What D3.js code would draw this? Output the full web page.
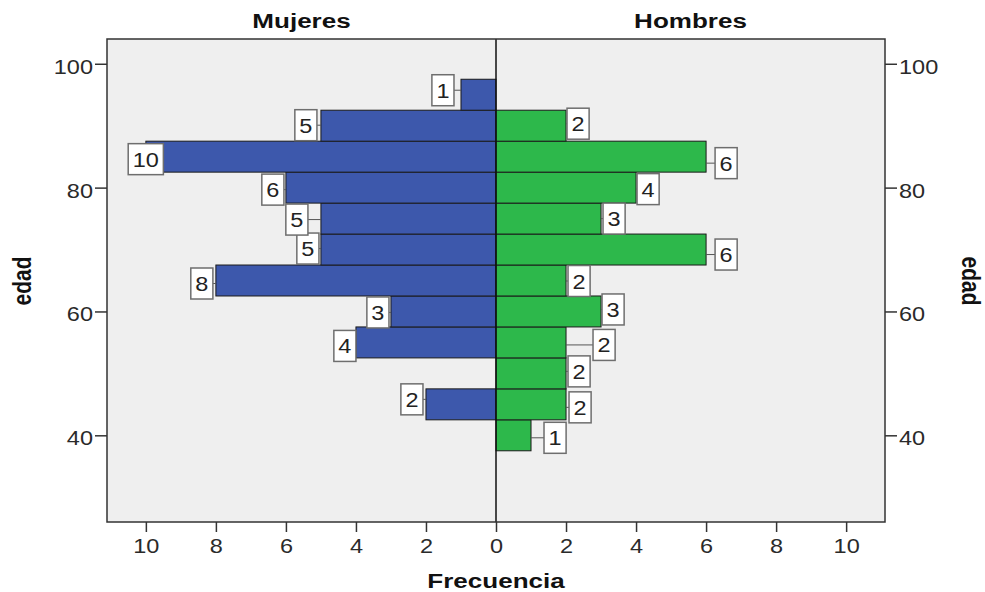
<!DOCTYPE html>
<html><head><meta charset="utf-8">
<script src="https://cdn.jsdelivr.net/npm/d3@7"></script>
<style>
html,body{margin:0;padding:0;background:#fff;}
svg{display:block;font-family:"Liberation Sans",Arial,sans-serif;}
</style></head>
<body><svg id="c" width="985" height="592"></svg>
<script>
// ---- data ----
const ages = [40, 45, 50, 55, 60, 65, 70, 75, 80, 85, 90, 95];
const mujeres = [0, 2, 0, 4, 3, 8, 5, 5, 6, 10, 5, 1];
const hombres = [1, 2, 2, 2, 3, 2, 6, 3, 4, 6, 2, 0];
const yTicks = [40, 60, 80, 100];
const xTicks = [0, 2, 4, 6, 8, 10];
const panelTitles = ["Mujeres", "Hombres"];
const xTitle = "Frecuencia";
const yTitle = "edad";
const binWidth = 5;

// ---- layout (label nudges: [gap from bar end, vertical shift]) ----
const mujNudge = [null, [3,-5], null, [0,3.5], [2,1], [3,3], [2,-1], [13,1], [2,2], [-17.5,2.5], [4,-0.5], [7,-4.5]];
const homNudge = [[13,2.5], [3,3], [2,-2], [27,2.5], [1,-2], [2,0.5], [9,5], [2,0], [1,1.5], [9,6.5], [1,-2], null];

const svg = d3.select("#c");
const X0 = 107, X1 = 885, CX = 496, YT = 39, YB = 522;
const blue = "#3d58ac", green = "#2db84b";
const numStretch = 1.12, boldStretch = 1.24;

const xL = d3.scaleLinear().domain([0, 11.11]).range([CX, X0]);
const xR = d3.scaleLinear().domain([0, 11.11]).range([CX, X1]);
const y = d3.scaleLinear().domain([26, 104]).range([YB, YT]);

// plot background
svg.append("rect").attr("x", X0).attr("y", YT).attr("width", X1 - X0).attr("height", YB - YT)
  .attr("fill", "#efefef");

// bars
function bars(vals, sc, color) {
  svg.append("g").selectAll("rect").data(ages.map((a, i) => ({a, v: vals[i]})).filter(d => d.v > 0))
    .join("rect")
    .attr("x", d => Math.min(sc(0), sc(d.v)))
    .attr("width", d => Math.abs(sc(d.v) - sc(0)))
    .attr("y", d => y(d.a + binWidth / 2))
    .attr("height", d => y(d.a - binWidth / 2) - y(d.a + binWidth / 2))
    .attr("fill", color).attr("stroke", "#1a1a1a").attr("stroke-width", 1);
}
bars(mujeres, xL, blue);
bars(hombres, xR, green);

// center line
svg.append("line").attr("x1", CX).attr("x2", CX).attr("y1", YT).attr("y2", YB)
  .attr("stroke", "#111").attr("stroke-width", 1.5);

// frame
svg.append("rect").attr("x", X0).attr("y", YT).attr("width", X1 - X0).attr("height", YB - YT)
  .attr("fill", "none").attr("stroke", "#333").attr("stroke-width", 1.5);

// value labels
function labels(vals, sc, nudges, side) {
  const g = svg.append("g");
  ages.forEach((a, i) => {
    const v = vals[i];
    if (!v || !nudges[i]) return;
    const [gap, dy] = nudges[i];
    const end = sc(v);
    const cy = y(a) + dy;
    const t = g.append("text").text(String(v)).attr("font-size", 21).attr("fill", "#222")
      .attr("text-anchor", "middle");
    const tw = t.node().getComputedTextLength() * numStretch;
    const bw = tw + 9, bh = 31;
    const bx = side < 0 ? end - gap - bw : end + gap;
    if (gap > 0) {
      g.insert("line", "text").attr("x1", end).attr("x2", side < 0 ? bx + bw : bx)
        .attr("y1", cy).attr("y2", cy).attr("stroke", "#555").attr("stroke-width", 1);
    }
    g.insert("rect", "text").attr("x", bx).attr("y", cy - bh / 2).attr("width", bw).attr("height", bh)
      .attr("fill", "#fff").attr("stroke", "#6e6e6e").attr("stroke-width", 1.5);
    t.attr("transform", `translate(${bx + bw / 2},${cy + 7.5}) scale(${numStretch},1)`);
  });
}
labels(mujeres, xL, mujNudge, -1);
labels(hombres, xR, homNudge, 1);

// axes
function styleAxis(g, stretch) {
  g.select(".domain").remove();
  g.selectAll(".tick line").attr("stroke", "#333").attr("stroke-width", 1.5);
  g.selectAll(".tick text").attr("font-size", 21).attr("fill", "#2a2a2a")
    .attr("font-family", "Liberation Sans, Arial, sans-serif")
    .each(function () {
      const s = d3.select(this);
      const xx = +s.attr("x") || 0, yy = +s.attr("y") || 0;
      s.attr("x", 0).attr("y", 0).attr("transform", `translate(${xx},${yy}) scale(${stretch},1)`);
    });
}
const gl = svg.append("g").attr("transform", `translate(${X0},0)`)
  .call(d3.axisLeft(y).tickValues(yTicks).tickSize(12).tickPadding(2).tickSizeOuter(0));
styleAxis(gl, numStretch);
gl.selectAll(".tick text").attr("dy", "0.45em");
const gr = svg.append("g").attr("transform", `translate(${X1},0)`)
  .call(d3.axisRight(y).tickValues(yTicks).tickSize(12).tickPadding(2).tickSizeOuter(0));
styleAxis(gr, numStretch);
gr.selectAll(".tick text").attr("dy", "0.45em");
const gbl = svg.append("g").attr("transform", `translate(0,${YB})`)
  .call(d3.axisBottom(xL).tickValues(xTicks.filter(d => d > 0)).tickSize(10).tickPadding(6).tickSizeOuter(0));
styleAxis(gbl, numStretch);
const gbr = svg.append("g").attr("transform", `translate(0,${YB})`)
  .call(d3.axisBottom(xR).tickValues(xTicks).tickSize(10).tickPadding(6).tickSizeOuter(0));
styleAxis(gbr, numStretch);

// titles
const boldText = (txt, x, yy, rot, stretch) => svg.append("text").text(txt)
  .attr("font-size", 21).attr("font-weight", "bold").attr("fill", "#111").attr("text-anchor", "middle")
  .attr("transform", rot ? `translate(${x},${yy}) rotate(${rot}) scale(1,${stretch})` : `translate(${x},${yy}) scale(${stretch},1)`);

boldText(panelTitles[0], (X0 + CX) / 2, 28, 0, boldStretch);
boldText(panelTitles[1], (CX + X1) / 2, 28, 0, boldStretch);
boldText(xTitle, CX, 588, 0, boldStretch);
boldText(yTitle, 31, 281, -90, boldStretch);
boldText(yTitle, 962, 281, 90, boldStretch);
</script></body></html>
